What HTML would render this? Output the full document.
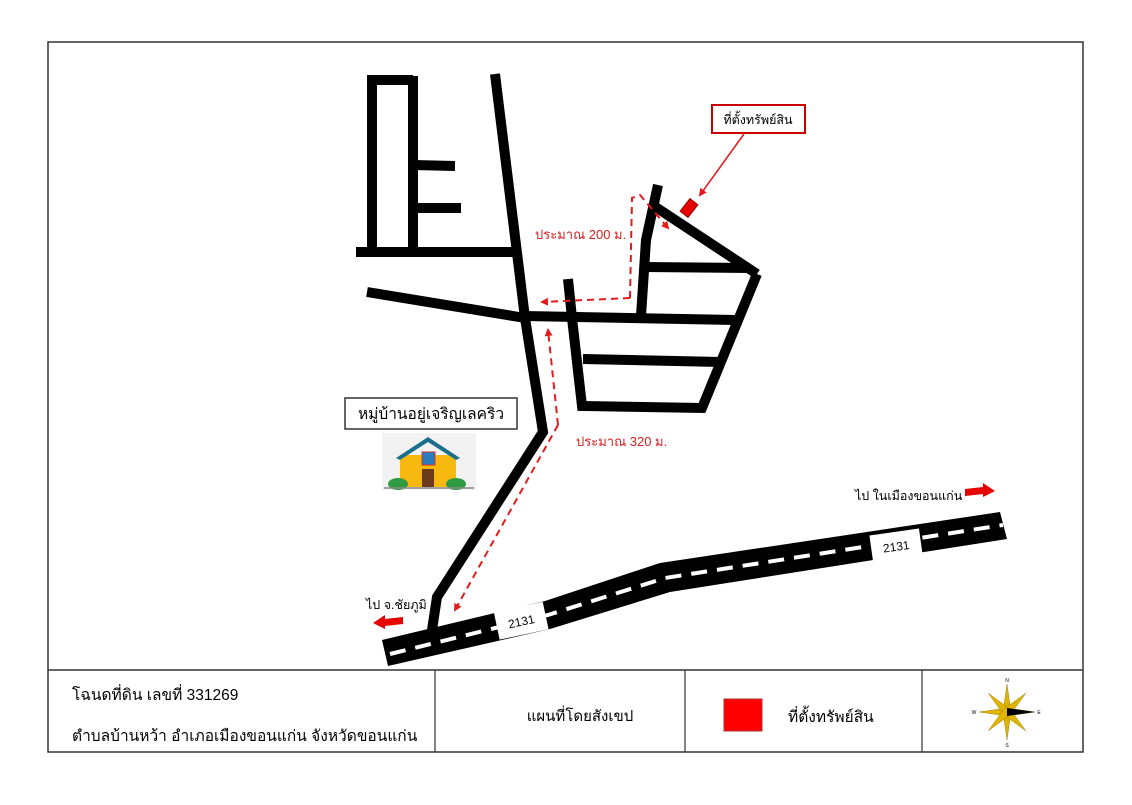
<!DOCTYPE html>
<html><head><meta charset="utf-8"><style>
body{margin:0;background:#fff;}
svg text{font-family:"Liberation Sans","Noto Sans CJK SC",sans-serif;}
</style></head><body>
<svg width="1132" height="800" viewBox="0 0 1132 800" xmlns="http://www.w3.org/2000/svg">
<defs>
<marker id="ar" markerWidth="8" markerHeight="8" refX="6" refY="4" orient="auto" markerUnits="userSpaceOnUse"><path d="M0,0 L8,4 L0,8 z" fill="#e21c1c"/></marker>
</defs>
<rect x="48" y="42" width="1035" height="710" fill="none" stroke="#333" stroke-width="1.5"/>
<line x1="48" y1="670" x2="1083" y2="670" stroke="#333" stroke-width="1.5"/>
<line x1="435" y1="670" x2="435" y2="752" stroke="#333" stroke-width="1.2"/>
<line x1="685" y1="670" x2="685" y2="752" stroke="#333" stroke-width="1.2"/>
<line x1="922" y1="670" x2="922" y2="752" stroke="#333" stroke-width="1.2"/>
<g stroke="#000" stroke-width="10" fill="none" stroke-linecap="butt" stroke-linejoin="miter">
<polyline points="372,252 372,80 413,80"/>
<line x1="413" y1="76" x2="413" y2="252"/>
<line x1="413" y1="165" x2="455" y2="166"/>
<line x1="413" y1="208" x2="461" y2="208"/>
<line x1="356" y1="252" x2="519" y2="252"/>
<line x1="367" y1="292" x2="525" y2="318"/>
<polyline points="495,74 525,318 543,432 437,597 432,630"/>
<line x1="525" y1="316" x2="736" y2="320"/>
<polyline points="568,279 572,318 582,406 702,408 757,274"/>
<line x1="583" y1="359" x2="721" y2="362"/>
<polyline points="658,185 646,240 641,316"/>
<line x1="651" y1="204" x2="757" y2="274"/>
<line x1="645" y1="267" x2="750" y2="268"/>
</g>
<polygon points="382,640 545,601 660,563 1000,512 1007,539 670,592 550,629 388,666" fill="#000"/>
<polyline points="390,654 548,615 665,578 1003,525" fill="none" stroke="#fff" stroke-width="4" stroke-dasharray="16,10"/>
<g transform="rotate(-12 520 620)"><rect x="496" y="607" width="50" height="28" fill="#fff"/><text x="521" y="626" font-size="12" text-anchor="middle">2131</text></g>
<g transform="rotate(-8 895 545)"><rect x="871" y="532" width="50" height="28" fill="#fff"/><text x="896" y="551" font-size="12" text-anchor="middle">2131</text></g>
<g stroke="#e21c1c" stroke-width="2" fill="none" stroke-dasharray="7,5">
<polyline points="630,298 632,198 640,195 668,228" marker-end="url(#ar)"/>
<line x1="630" y1="298" x2="542" y2="302" marker-end="url(#ar)"/>
<polyline points="558,425 548,330" marker-end="url(#ar)"/>
<polyline points="558,425 455,610" marker-end="url(#ar)"/>
</g>
<rect x="684" y="200" width="10" height="16" fill="#e60000" stroke="#900" transform="rotate(38 689 208)"/>
<rect x="712" y="105" width="93" height="28" fill="#fff" stroke="#c00" stroke-width="2"/>
<text x="758" y="124" font-size="12.5" text-anchor="middle" fill="#000">ที่ตั้งทรัพย์สิน</text>
<line x1="744" y1="134" x2="700" y2="195" stroke="#e21c1c" stroke-width="1.5" marker-end="url(#ar)"/>
<text x="535" y="239" font-size="13" fill="#d42020">ประมาณ 200 ม.</text>
<text x="576" y="446" font-size="13" fill="#d42020">ประมาณ 320 ม.</text>
<rect x="345" y="398" width="172" height="31" fill="#fff" stroke="#333" stroke-width="1.5"/>
<text x="431" y="419" font-size="15.5" text-anchor="middle">หมู่บ้านอยู่เจริญเลคริว</text>
<rect x="382" y="433" width="94" height="57" fill="#f2f2f2"/>
<rect x="400" y="455" width="56" height="32" fill="#f7b90f"/>
<polygon points="396,458 428,437 460,458 456,460 428,442 400,460" fill="#1c6f8c"/>
<rect x="422" y="452" width="13" height="13" fill="#2a7bbd" stroke="#c33" stroke-width="1"/>
<rect x="422" y="469" width="12" height="18" fill="#6b3a1b"/>
<ellipse cx="398" cy="484" rx="10" ry="6" fill="#2e9a42"/>
<ellipse cx="456" cy="484" rx="10" ry="6" fill="#2e9a42"/>
<line x1="384" y1="488" x2="474" y2="488" stroke="#888" stroke-width="1.5"/>
<text x="855" y="500" font-size="12.5">ไป ในเมืองขอนแก่น</text>
<polygon points="965,489 983,487 983,483 995,491 983,497 983,494 965,496" fill="#e60000"/>
<text x="366" y="609" font-size="12.5">ไป จ.ชัยภูมิ</text>
<polygon points="403,617 385,619 385,615 373,623 385,629 385,626 403,624" fill="#e60000"/>
<text x="72" y="700" font-size="15.5">โฉนดที่ดิน เลขที่ 331269</text>
<text x="72" y="741" font-size="15.5">ตำบลบ้านหว้า อำเภอเมืองขอนแก่น จังหวัดขอนแก่น</text>
<text x="580" y="721" font-size="15" text-anchor="middle">แผนที่โดยสังเขป</text>
<rect x="724" y="699" width="38" height="32" fill="#f00" stroke="#a33"/>
<text x="788" y="722" font-size="15.5">ที่ตั้งทรัพย์สิน</text>
<g transform="translate(1007,712)">
<g fill="#e0b400" stroke="#8a7000" stroke-width="0.4">
<polygon points="0,-28 4,0 0,28 -4,0"/>
<polygon points="-28,0 0,-4 28,0 0,4"/>
<polygon points="-19,-19 3,-3 19,19 -3,3"/>
<polygon points="19,-19 3,3 -19,19 -3,-3"/>
</g>
<polygon points="0,-4 28,0 0,4" fill="#000"/>
<text x="0" y="-30" font-size="5" text-anchor="middle">N</text>
<text x="0" y="35" font-size="5" text-anchor="middle">S</text>
<text x="-33" y="2" font-size="5" text-anchor="middle">W</text>
<text x="32" y="2" font-size="5" text-anchor="middle">E</text>
</g>
</svg>
</body></html>
